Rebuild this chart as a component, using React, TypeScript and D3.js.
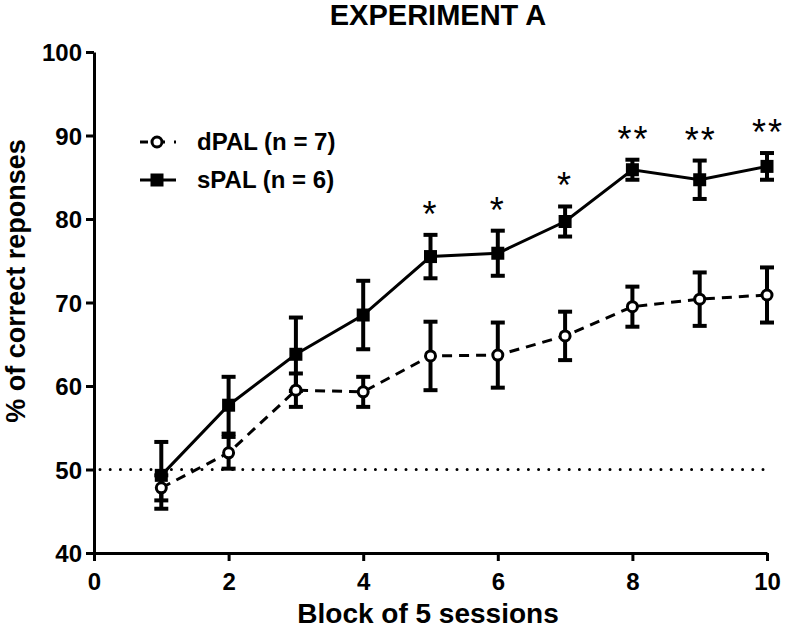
import { useEffect, useRef } from 'react';
import * as d3 from 'd3';

const blocks = [1, 2, 3, 4, 5, 6, 7, 8, 9, 10];
const dpalMean = [47.8, 52.0, 59.5, 59.3, 63.6, 63.7, 66.0, 69.5, 70.4, 70.9];
const dpalErr = [1.5, 1.9, 2.0, 1.8, 4.1, 3.9, 2.9, 2.4, 3.2, 3.3];
const spalMean = [49.3, 57.7, 63.8, 68.5, 75.5, 75.9, 79.7, 85.9, 84.7, 86.3];
const spalErr = [4.0, 3.4, 4.4, 4.1, 2.6, 2.7, 1.8, 1.2, 2.3, 1.6];
const stars = ['', '', '', '', '*', '*', '*', '**', '**', '**'];
const xTicks = [0, 2, 4, 6, 8, 10];
const yTicks = [40, 50, 60, 70, 80, 90, 100];
const chance = 50;

const FONT = "Arial, 'Liberation Sans', sans-serif";

export default function App() {
  const svgRef = useRef<SVGSVGElement>(null);

  useEffect(() => {
    if (!svgRef.current) return;
    const width = 789;
    const height = 631;
    const margin = { top: 52, right: 22, bottom: 78, left: 94 };
    const innerWidth = width - margin.left - margin.right;
    const innerHeight = height - margin.top - margin.bottom;

    d3.select(svgRef.current).selectAll('*').remove();
    const svg = d3.select(svgRef.current).attr('width', width).attr('height', height);
    const g = svg.append('g').attr('transform', `translate(${margin.left},${margin.top})`);

    const x = d3.scaleLinear().domain([0, 10]).range([0, innerWidth]);
    const y = d3.scaleLinear().domain([40, 100]).range([innerHeight, 0]);

    // chance line
    g.append('line')
      .attr('x1', x(0) + 6)
      .attr('x2', x(10))
      .attr('y1', y(chance))
      .attr('y2', y(chance))
      .attr('stroke', '#000')
      .attr('stroke-width', 3)
      .attr('stroke-linecap', 'round')
      .attr('stroke-dasharray', '0,10.2');

    const series = [
      { key: 'dPAL', mean: dpalMean, err: dpalErr, dash: '10,7' },
      { key: 'sPAL', mean: spalMean, err: spalErr, dash: null },
    ];

    const line = d3
      .line<number>()
      .x((_, i) => x(blocks[i]))
      .y((d) => y(d));

    series.forEach((s) => {
      // error bars
      const eb = g.append('g');
      s.mean.forEach((m, i) => {
        const cx = x(blocks[i]);
        eb.append('line')
          .attr('x1', cx)
          .attr('x2', cx)
          .attr('y1', y(m - s.err[i]))
          .attr('y2', y(m + s.err[i]))
          .attr('stroke', '#000')
          .attr('stroke-width', 4);
        [m - s.err[i], m + s.err[i]].forEach((v) => {
          eb.append('line')
            .attr('x1', cx - 7)
            .attr('x2', cx + 7)
            .attr('y1', y(v))
            .attr('y2', y(v))
            .attr('stroke', '#000')
            .attr('stroke-width', 4);
        });
      });

      g.append('path')
        .datum(s.mean)
        .attr('fill', 'none')
        .attr('stroke', '#000')
        .attr('stroke-width', 3)
        .attr('stroke-dasharray', s.dash)
        .attr('d', line);
    });

    // markers
    g.selectAll('.dpal')
      .data(dpalMean)
      .join('circle')
      .attr('cx', (_, i) => x(blocks[i]))
      .attr('cy', (d) => y(d))
      .attr('r', 5)
      .attr('fill', '#fff')
      .attr('stroke', '#000')
      .attr('stroke-width', 3);

    g.selectAll('.spal')
      .data(spalMean)
      .join('rect')
      .attr('x', (_, i) => x(blocks[i]) - 6.5)
      .attr('y', (d) => y(d) - 6.5)
      .attr('width', 13)
      .attr('height', 13)
      .attr('fill', '#000');

    // significance stars
    g.selectAll('.star')
      .data(stars)
      .join('text')
      .attr('x', (d, i) => x(blocks[i]) + (d.length > 1 ? 1 : 0))
      .attr('y', (_, i) => y(spalMean[i] + spalErr[i]) - 8)
      .attr('text-anchor', 'middle')
      .style('font-family', FONT)
      .style('font-size', '36px')
      .style('letter-spacing', '2px')
      .text((d) => d);

    // axes
    const xAxis = g
      .append('g')
      .attr('transform', `translate(0,${innerHeight})`)
      .call(d3.axisBottom(x).tickValues(xTicks).tickSize(8).tickSizeOuter(0));
    const yAxis = g.append('g').call(d3.axisLeft(y).tickValues(yTicks).tickSize(8).tickSizeOuter(0));

    [xAxis, yAxis].forEach((a) => {
      a.select('.domain').attr('stroke-width', 3);
      a.selectAll('line').attr('stroke-width', 3);
      a.selectAll('text')
        .style('font-family', FONT)
        .style('font-size', '24px')
        .style('font-weight', 'bold')
        .attr('fill', '#000');
    });
    xAxis.selectAll('text').attr('y', 37).attr('dy', 0);
    yAxis.selectAll('text').attr('x', -12).attr('dy', '0.36em');

    // titles
    svg.append('text')
      .attr('x', 438)
      .attr('y', 25)
      .attr('text-anchor', 'middle')
      .style('font-family', FONT)
      .style('font-size', '29px')
      .style('font-weight', 'bold')
      .text('EXPERIMENT A');

    svg.append('text')
      .attr('x', 428)
      .attr('y', 623)
      .attr('text-anchor', 'middle')
      .style('font-family', FONT)
      .style('font-size', '28px')
      .style('font-weight', 'bold')
      .text('Block of 5 sessions');

    svg.append('text')
      .attr('transform', 'rotate(-90)')
      .attr('x', -281)
      .attr('y', 25)
      .attr('text-anchor', 'middle')
      .style('font-family', FONT)
      .style('font-size', '27px')
      .style('font-weight', 'bold')
      .text('% of correct reponses');

    // legend
    const legend = svg.append('g').attr('transform', 'translate(140,142)');
    const rows = [
      { label: 'dPAL (n = 7)', dash: '8,9' },
      { label: 'sPAL (n = 6)', dash: null },
    ];
    rows.forEach((r, i) => {
      const row = legend.append('g').attr('transform', `translate(0,${i * 38})`);
      row.append('line')
        .attr('x1', 0)
        .attr('x2', 36)
        .attr('stroke', '#000')
        .attr('stroke-width', 3)
        .attr('stroke-dasharray', r.dash);
      if (i === 0) {
        row.append('circle').attr('cx', 17).attr('r', 5).attr('fill', '#fff').attr('stroke', '#000').attr('stroke-width', 3);
      } else {
        row.append('rect').attr('x', 10.5).attr('y', -6.5).attr('width', 13).attr('height', 13).attr('fill', '#000');
      }
      row.append('text')
        .attr('x', 57)
        .attr('y', 8)
        .style('font-family', FONT)
        .style('font-size', '24px')
        .style('font-weight', 'bold')
        .text(r.label);
    });
  }, []);

  return (
    <div style={{ position: 'absolute', left: 0, top: 0 }}>
      <svg ref={svgRef}></svg>
    </div>
  );
}
